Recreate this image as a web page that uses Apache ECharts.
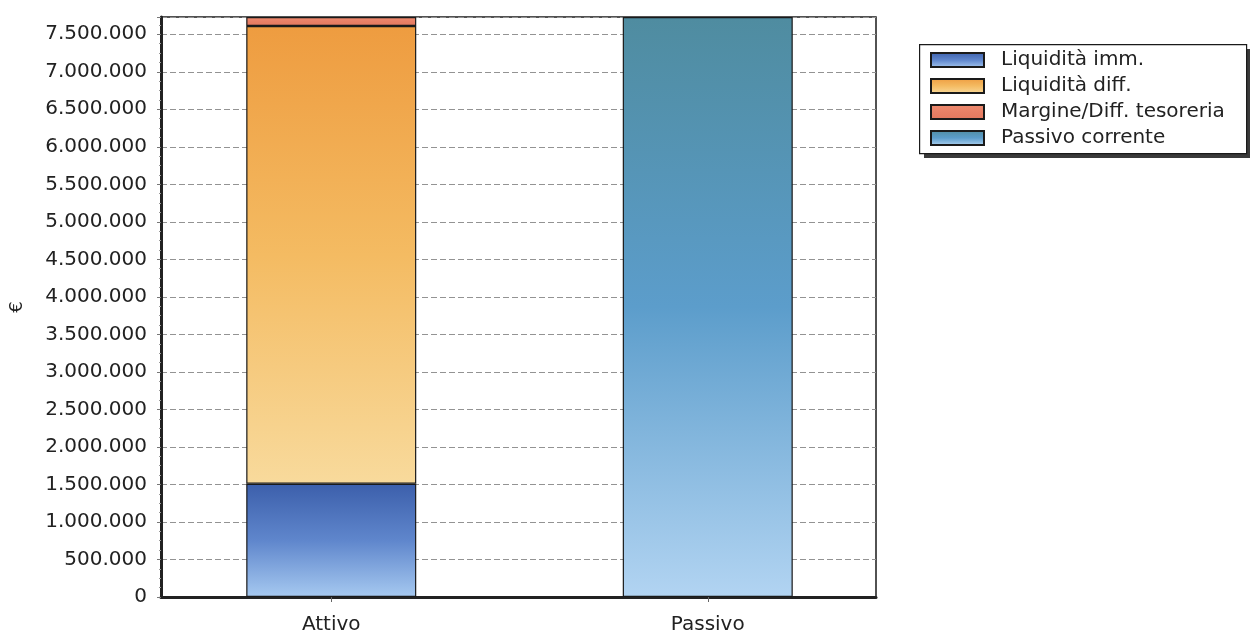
<!DOCTYPE html>
<html>
<head>
<meta charset="utf-8">
<script src="https://cdn.jsdelivr.net/npm/echarts@6/dist/echarts.min.js"></script>
<style>
  html, body { margin: 0; padding: 0; background: #ffffff; }
  #chart { width: 1250px; height: 634px; }
</style>
</head>
<body>
<div id="chart"></div>
<script>
// Categories and stacked values (euro)
const categories = ['Attivo', 'Passivo'];
const liquiditaImm = [1510000, null];
const liquiditaDiff = [6100000, null];
const margineTesoreria = [120000, null];
const passivoCorrente = [null, 7730000];
const seriesNames = ['Liquidità imm.', 'Liquidità diff.', 'Margine/Diff. tesoreria', 'Passivo corrente'];

const axisMax = 7730000;
const axisStep = 500000;

function grad(top, mid, bottom) {
  return {
    type: 'linear', x: 0, y: 0, x2: 0, y2: 1,
    colorStops: [
      { offset: 0, color: top },
      { offset: 0.5, color: mid },
      { offset: 1, color: bottom }
    ]
  };
}

// thousands separated with dots
function fmt(v) {
  return String(Math.round(v)).replace(/\B(?=(\d{3})+(?!\d))/g, '.');
}

const FONT = 'DejaVu Sans';
const barBorder = { borderColor: '#1a1a1a', borderWidth: 1.2 };

const chart = echarts.init(document.getElementById('chart'), null, { renderer: 'canvas' });

chart.setOption({
  animation: false,
  backgroundColor: '#ffffff',
  textStyle: { fontFamily: FONT },
  grid: [
    // frame with value axis and gridlines
    { left: 161, right: 374, top: 17, bottom: 37, outerBoundsMode: 'none', containLabel: false,
      show: true, borderColor: '#1a1a1a', borderWidth: 1.5, backgroundColor: 'transparent' },
    // bar placement
    { left: 143, width: 753, top: 17, bottom: 37, outerBoundsMode: 'none', containLabel: false }
  ],
  // legend box with drop shadow
  graphic: [
    { type: 'rect', left: 924, top: 49, z: 0, shape: { width: 327, height: 109 }, style: { fill: '#3a3a3a' } },
    { type: 'rect', left: 919, top: 44, z: 1, shape: { width: 327, height: 109 }, style: { fill: '#ffffff', stroke: '#1a1a1a', lineWidth: 1.2 } }
  ],
  legend: {
    orient: 'vertical',
    left: 930,
    top: 50,
    z: 5,
    data: seriesNames,
    icon: 'rect',
    itemWidth: 53,
    itemHeight: 14,
    itemGap: 6,
    padding: 0,
    textStyle: { fontFamily: FONT, fontSize: 20, color: '#222', padding: [0, 0, 0, 12] }
  },
  xAxis: [
    {
      type: 'category', gridIndex: 0, data: categories,
      axisLine: { lineStyle: { color: '#222', width: 3 } },
      axisTick: { show: false }, axisLabel: { show: false }, splitLine: { show: false }
    },
    {
      type: 'category', gridIndex: 1, data: categories,
      axisLine: { show: false },
      axisTick: { show: true, alignWithLabel: true, length: 5, lineStyle: { color: '#666' } },
      axisLabel: { fontFamily: FONT, fontSize: 20, color: '#222', margin: 18 }
    }
  ],
  yAxis: [
    {
      type: 'value', gridIndex: 0, min: 0, max: axisMax, interval: axisStep,
      name: '€', nameLocation: 'middle', nameGap: 135, nameRotate: 90,
      nameTextStyle: { fontFamily: FONT, fontSize: 18, color: '#222' },
      axisLine: { show: true, lineStyle: { color: '#222', width: 3 } },
      axisTick: { show: true, length: 4, lineStyle: { color: '#777' } },
      minorTick: { show: true, splitNumber: 4, length: 2, lineStyle: { color: '#999' } },
      axisLabel: { fontFamily: FONT, fontSize: 20, color: '#222', margin: 14, formatter: fmt, showMaxLabel: false },
      splitLine: { show: true, lineStyle: { color: '#939393', type: [6, 3], width: 1 } }
    },
    {
      type: 'value', gridIndex: 1, min: 0, max: axisMax,
      show: false, splitLine: { show: false }
    }
  ],
  series: [
    {
      name: seriesNames[0], type: 'bar', stack: 'tot', xAxisIndex: 1, yAxisIndex: 1,
      barWidth: 170, data: liquiditaImm,
      itemStyle: Object.assign({ color: grad('#3c5fab', '#5f86cc', '#a6c9f0') }, barBorder)
    },
    {
      name: seriesNames[1], type: 'bar', stack: 'tot', xAxisIndex: 1, yAxisIndex: 1,
      barWidth: 170, data: liquiditaDiff,
      itemStyle: Object.assign({ color: grad('#ee9c40', '#f4bb62', '#f8da9c') }, barBorder)
    },
    {
      name: seriesNames[2], type: 'bar', stack: 'tot', xAxisIndex: 1, yAxisIndex: 1,
      barWidth: 170, data: margineTesoreria,
      itemStyle: Object.assign({ color: grad('#ef8c70', '#e98066', '#e4785e') }, barBorder)
    },
    {
      name: seriesNames[3], type: 'bar', stack: 'tot', xAxisIndex: 1, yAxisIndex: 1,
      barWidth: 174, data: passivoCorrente,
      itemStyle: Object.assign({ color: grad('#4f8ca0', '#5c9dcb', '#b2d4f2') }, barBorder)
    }
  ]
});
</script>
</body>
</html>
